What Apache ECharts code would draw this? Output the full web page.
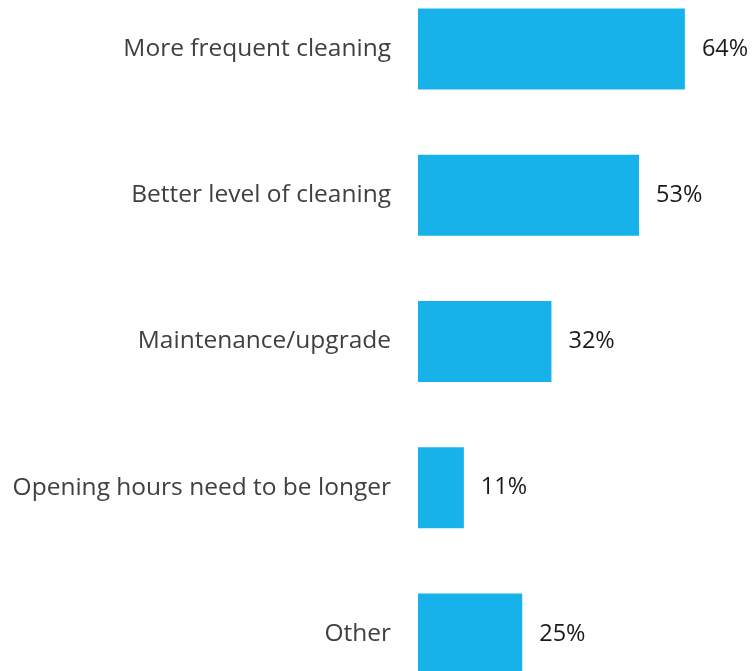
<!DOCTYPE html>
<html>
<head>
<meta charset="utf-8">
<style>
  html, body { margin: 0; padding: 0; background: #ffffff; }
  #chart { width: 754px; height: 671px; }
</style>
<script src="https://cdn.jsdelivr.net/npm/echarts@6/dist/echarts.min.js"></script>
</head>
<body>
<div id="chart"></div>
<script>
// Suggested improvements, share of respondents (%)
const categories = [
  'More frequent cleaning',
  'Better level of cleaning',
  'Maintenance/upgrade',
  'Opening hours need to be longer',
  'Other'
];
const shares = [64, 53, 32, 11, 25];

const chart = echarts.init(document.getElementById('chart'));
const font = '"Open Sans", "Liberation Sans", sans-serif';

chart.setOption({
  animation: false,
  grid: {
    left: 418, top: -24, width: 417, height: 731,
    containLabel: false,
    outerBoundsMode: 'none'
  },
  xAxis: {
    type: 'value',
    min: 0,
    max: 100,
    show: false
  },
  yAxis: {
    type: 'category',
    data: categories,
    inverse: true,
    axisLine: { show: false },
    axisTick: { show: false },
    splitLine: { show: false },
    axisLabel: {
      margin: 27,
      color: '#404040',
      fontFamily: font,
      fontSize: 24.5
    }
  },
  series: [{
    type: 'bar',
    data: shares,
    barWidth: 81,
    itemStyle: { color: '#17B2EA' },
    label: {
      show: true,
      position: 'right',
      distance: 17,
      formatter: p => p.value + '%',
      color: '#1a1a1a',
      fontFamily: font,
      fontSize: 23.5
    }
  }]
});
</script>
</body>
</html>
